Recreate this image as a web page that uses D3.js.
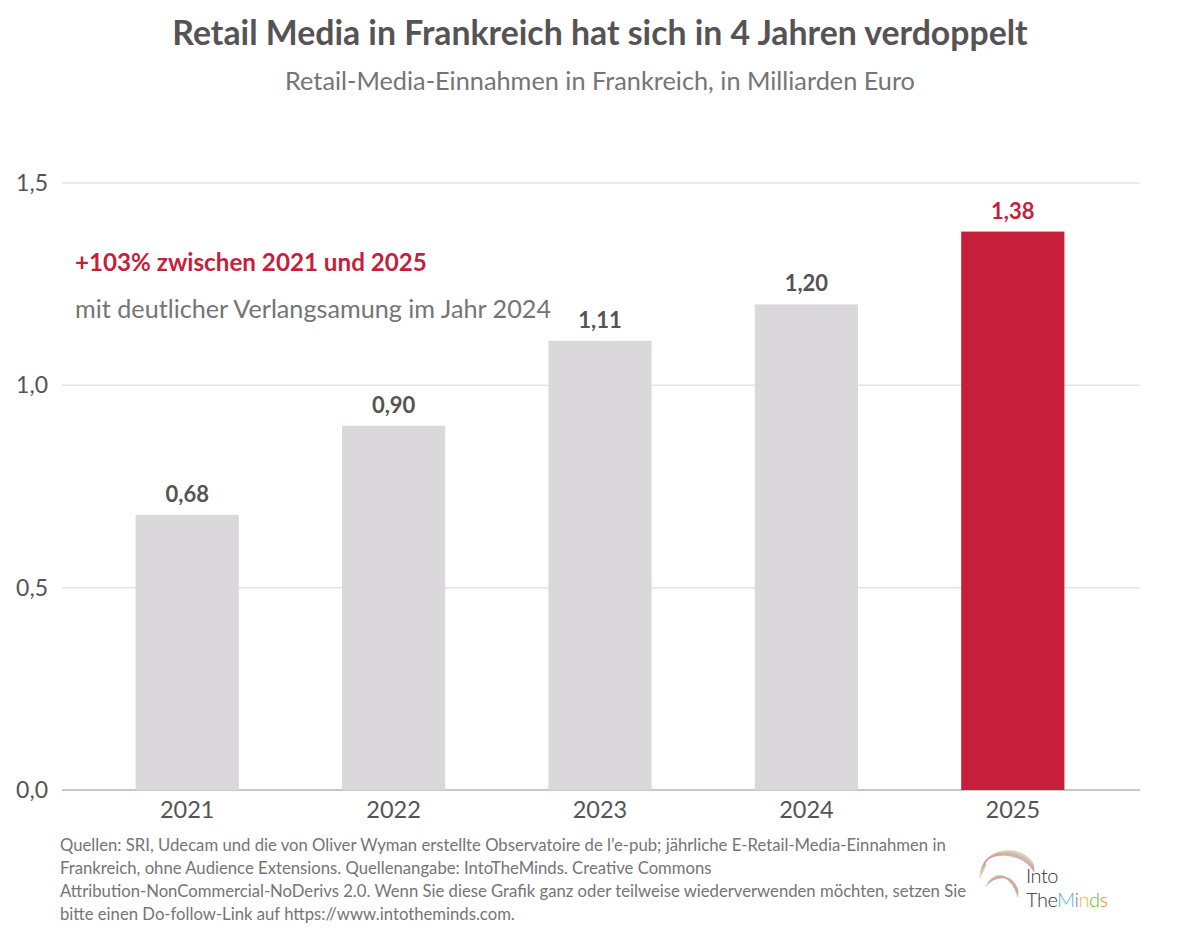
<!DOCTYPE html>
<html>
<head>
<meta charset="utf-8">
<script src="https://cdn.jsdelivr.net/npm/d3@7"></script>
<style>
  body { margin: 0; background: #fff; }
  svg { display: block; font-family: Lato, "Open Sans", sans-serif; }
</style>
</head>
<body>
<svg id="chart" width="1200" height="942"></svg>
<script>
"use strict";

var years = ['2021', '2022', '2023', '2024', '2025'];
var revenue = [0.68, 0.90, 1.11, 1.20, 1.38];
var yTicks = [0, 0.5, 1.0, 1.5];
var highlightYear = '2025';

var title = 'Retail Media in Frankreich hat sich in 4 Jahren verdoppelt';
var subtitle = 'Retail-Media-Einnahmen in Frankreich, in Milliarden Euro';
var noteBold = '+103% zwischen 2021 und 2025';
var noteText = 'mit deutlicher Verlangsamung im Jahr 2024';
var sourceLines = [
  'Quellen: SRI, Udecam und die von Oliver Wyman erstellte Observatoire de l\u2019e-pub; jährliche E-Retail-Media-Einnahmen in',
  'Frankreich, ohne Audience Extensions. Quellenangabe: IntoTheMinds. Creative Commons',
  'Attribution-NonCommercial-NoDerivs 2.0. Wenn Sie diese Grafik ganz oder teilweise wiederverwenden möchten, setzen Sie',
  'bitte einen Do-follow-Link auf https://www.intotheminds.com.'
];

var red = '#c51f3c', grey = '#dad8db', textCol = '#555355', lightText = '#767477';
var comma = function (v, d) { return v.toFixed(d).replace('.', ','); };

var svg = d3.select('#chart');
var data = years.map(function (y, i) { return { year: y, value: revenue[i] }; });

var x = d3.scaleBand().domain(years).range([84, 1116]).paddingInner(0.5).paddingOuter(0.25);
var y = d3.scaleLinear().domain([0, 1.5]).range([790, 183]);

// titles
svg.append('text').attr('x', 600).attr('y', 45).attr('text-anchor', 'middle')
  .style('font-size', '33.8px').style('font-weight', 700).style('fill', textCol).text(title);
svg.append('text').attr('x', 600).attr('y', 90).attr('text-anchor', 'middle')
  .style('font-size', '25.3px').style('fill', lightText).text(subtitle);

// gridlines + y labels
var yAxis = svg.append('g');
yAxis.selectAll('line').data(yTicks).enter().append('line')
  .attr('x1', 62).attr('x2', 1140)
  .attr('y1', function (d) { return y(d); }).attr('y2', function (d) { return y(d); })
  .style('stroke', function (d) { return d === 0 ? '#c8c6c9' : '#e4e2e5'; })
  .style('stroke-width', function (d) { return d === 0 ? 2 : 1.5; });
yAxis.selectAll('text').data(yTicks).enter().append('text')
  .attr('x', 48).attr('y', function (d) { return y(d) + 8; })
  .attr('text-anchor', 'end')
  .style('font-size', '23px').style('fill', textCol)
  .text(function (d) { return comma(d, 1); });

// bars
svg.selectAll('rect.bar').data(data).enter().append('rect')
  .attr('class', 'bar')
  .attr('x', function (d) { return x(d.year); })
  .attr('width', x.bandwidth())
  .attr('y', function (d) { return y(d.value); })
  .attr('height', function (d) { return y(0) - y(d.value); })
  .style('fill', function (d) { return d.year === highlightYear ? red : grey; });

// value labels
svg.selectAll('text.val').data(data).enter().append('text')
  .attr('class', 'val')
  .attr('x', function (d) { return x(d.year) + x.bandwidth() / 2; })
  .attr('y', function (d) { return y(d.value) - 13; })
  .attr('text-anchor', 'middle')
  .style('font-size', '22px').style('font-weight', 700)
  .style('fill', function (d) { return d.year === highlightYear ? red : textCol; })
  .text(function (d) { return comma(d.value, 2); });

// x labels
svg.selectAll('text.xl').data(years).enter().append('text')
  .attr('class', 'xl')
  .attr('x', function (d) { return x(d) + x.bandwidth() / 2; })
  .attr('y', 818)
  .attr('text-anchor', 'middle')
  .style('font-size', '23.5px').style('fill', textCol)
  .text(function (d) { return d; });

// annotation
svg.append('text').attr('x', 75).attr('y', 271)
  .style('font-size', '24.2px').style('font-weight', 700).style('fill', red).text(noteBold);
svg.append('text').attr('x', 75).attr('y', 318)
  .style('font-size', '25.2px').style('fill', lightText).text(noteText);

// source
svg.append('g').selectAll('text').data(sourceLines).enter().append('text')
  .attr('x', 60).attr('y', function (d, i) { return 851 + i * 23; })
  .style('font-size', '16.7px').style('fill', lightText)
  .text(function (d) { return d; });

// logo
var logo = svg.append('g');
var swirl = ['#f4a3c8', '#f7d36b', '#9ed36a', '#7ccbe8', '#b79de0', '#f3a36a', '#e88fb0'];
swirl.forEach(function (c, i) {
  logo.append('path')
    .attr('d', 'M' + (980 + i) + ',' + (878 - i * 2) + ' C 980,' + (846 + i) + ' 1024,' + (843 + i) +
      ' 1034,' + (866 + i) + ' M ' + (986 + i) + ',' + (886 - i) + ' C 998,' + (866 + i * 2) + ' 1012,' + (878 - i) + ' 1018,' + (897 - i))
    .style('fill', 'none').style('stroke', c).style('stroke-width', 1.2).style('opacity', 0.8);
});
logo.append('text').attr('x', 1026).attr('y', 883)
  .style('font-size', '20px').style('font-weight', 300).style('fill', '#333')
  .style('letter-spacing', '-0.5px').text('Into');
var word = logo.append('text').attr('x', 1026).attr('y', 907)
  .style('font-size', '20px').style('font-weight', 300).style('letter-spacing', '-0.5px');
[['The', '#333'], ['M', '#49b6e3'], ['i', '#9b5fc0'], ['n', '#d8c62a'], ['d', '#6cb83a'], ['s', '#ee8a2a']]
  .forEach(function (p) { word.append('tspan').style('fill', p[1]).text(p[0]); });
</script>
</body>
</html>
